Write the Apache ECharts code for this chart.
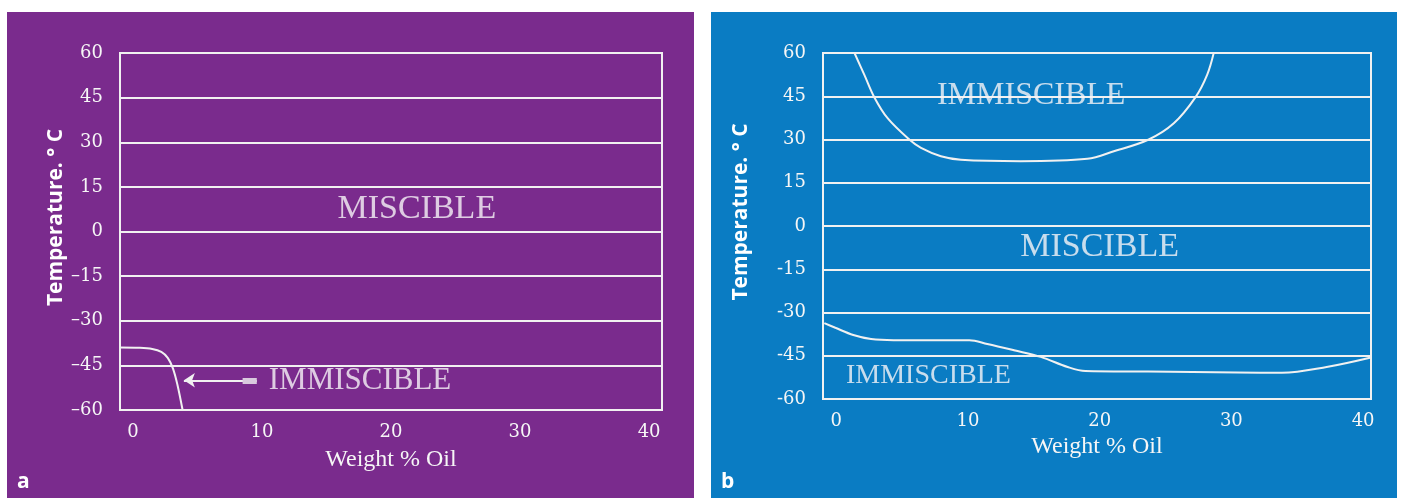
<!DOCTYPE html>
<html><head><meta charset="utf-8">
<script src="https://cdn.jsdelivr.net/npm/echarts@6/dist/echarts.min.js"></script>
<style>html,body{margin:0;padding:0;background:#fff}#c{width:1403px;height:502px}</style>
</head><body><div id="c"></div><script>
// ---- data ----
const xTickLabels = [0, 10, 20, 30, 40];
const yTickLabels = [-60, -45, -30, -15, 0, 15, 30, 45, 60];
// panel a: immiscibility boundary
const curveA = [[-1,-39.0],[0.5,-39.1],[1.5,-39.5],[2.2,-40.5],[2.7,-42.5],[3.1,-46.0],[3.45,-51.5],[3.85,-60]];
const arrowA = [[9.6,-50],[3.95,-50]];
const arrowTailA = [[8.5,-50],[9.6,-50]];
// panel b: upper and lower boundaries
const curveBUpper = [[1.39,60],[2.14,52.4],[2.90,44.6],[3.92,37.3],[5.55,30],[6.44,27.1],[7.95,24.2],[9.47,23.0],[14.0,22.5],[19.07,23.3],[21.08,25.9],[23.73,30],[25.63,35.6],[27.27,44.6],[28.16,52.4],[28.66,60]];
const curveBLower = [[-0.9,-33.7],[-0.06,-35.3],[1.30,-37.8],[2.65,-39.2],[4.35,-39.6],[10.11,-39.6],[11.47,-40.9],[13.50,-43.1],[15.53,-45.4],[17.57,-48.9],[18.92,-50.3],[23.67,-50.5],[30.45,-50.8],[33.84,-50.9],[37.23,-48.9],[40.6,-45.6]];
// region labels [x, y, text]
const labelsA = [[22.0, 7.7, 'MISCIBLE'], [17.6, -50.1, 'IMMISCIBLE']];
const labelsB = [[14.8, 45.2, 'IMMISCIBLE'], [20.0, -7.3, 'MISCIBLE'], [7.0, -52.0, 'IMMISCIBLE']];

const chart = echarts.init(document.getElementById('c'), null, {renderer:'canvas'});
const LINE = '#f1f1f1';
const serif = 'Liberation Serif';
const tickFont = 'DejaVu Serif';
const sans = 'Open Sans';

function xAxisCfg(grid, max){
  return {
    gridIndex: grid, type:'value', min:-1, max:max, interval:1,
    axisLine:{show:false}, axisTick:{show:false}, splitLine:{show:false},
    axisLabel:{color:'#f6f6f6', fontFamily:tickFont, fontSize:18, margin:13,
      formatter: v => xTickLabels.includes(v) ? String(v) : ''},
    name:'Weight % Oil', nameLocation:'middle', nameGap: grid===0 ? 38 : 36,
    nameTextStyle:{color:'#f6f6f6', fontFamily:serif, fontSize:24}
  };
}
function yAxisCfg(grid){
  return {
    gridIndex: grid, type:'value', min:yTickLabels[0], max:yTickLabels[yTickLabels.length-1], interval:15,
    axisLine:{show:false}, axisTick:{show:false},
    splitLine:{show:true, lineStyle:{color:LINE, width:2}},
    axisLabel:{color:'#f6f6f6', fontFamily:tickFont, fontSize:18, margin:17,
      formatter: v => grid===0 ? String(v).replace('-', '\u2013') : String(v)},
    name:'Temperature. \u00b0 C', nameLocation:'middle', nameRotate:90, nameGap: grid===0 ? 53 : 71,
    nameTextStyle:{color:'#ffffff', fontFamily:sans, fontWeight:'bold', fontSize:21, padding:[0,0,0,28]}
  };
}
function curve(data, xi){
  return {type:'line', xAxisIndex:xi, yAxisIndex:xi, data:data, smooth:0.35, showSymbol:false, silent:true,
    lineStyle:{color:LINE, width:2}, z:3};
}
function labels(data, xi, sizes){
  return {type:'scatter', xAxisIndex:xi, yAxisIndex:xi, symbolSize:0, silent:true, z:4,
    data: data.map((d,i)=>({value:[d[0],d[1]], label:{show:true, position:'inside', formatter:d[2],
      color:'#f7f5f8', fontFamily:serif, fontSize:sizes[i]}}))};
}

chart.setOption({
  animation:false,
  backgroundColor:'#ffffff',
  graphic:[
    {type:'rect', z:-10, shape:{x:7, y:12, width:687, height:486}, style:{fill:'#7a2b8d'}},
    {type:'rect', z:-10, shape:{x:711, y:12, width:686, height:486}, style:{fill:'#0a7cc3'}},
    {type:'text', left:17, top:472, style:{text:'a', fill:'#fff', font:'bold 21px "Open Sans"'}},
    {type:'text', left:721, top:472, style:{text:'b', fill:'#fff', font:'bold 21px "Open Sans"'}}
  ],
  grid:[
    {left:120, right:741, top:53, bottom:92, show:true, borderColor:LINE, borderWidth:2},
    {left:823, right:32, top:53, bottom:103, show:true, borderColor:LINE, borderWidth:2}
  ],
  xAxis:[xAxisCfg(0, 41), xAxisCfg(1, 40.6)],
  yAxis:[yAxisCfg(0), yAxisCfg(1)],
  series:[
    curve(curveA, 0),
    {type:'lines', coordinateSystem:'cartesian2d', xAxisIndex:0, yAxisIndex:0, silent:true, z:3,
      symbol:['none','arrow'], symbolSize:11,
      lineStyle:{color:LINE, width:2, opacity:1},
      data:[{coords:arrowA}]},
    {type:'lines', coordinateSystem:'cartesian2d', xAxisIndex:0, yAxisIndex:0, silent:true, z:3,
      lineStyle:{color:'#d9c9de', width:6, opacity:1},
      data:[{coords:arrowTailA}]},
    labels(labelsA, 0, [34, 31]),
    curve(curveBUpper, 1),
    curve(curveBLower, 1),
    labels(labelsB, 1, [32, 34, 28])
  ]
});
</script></body></html>
